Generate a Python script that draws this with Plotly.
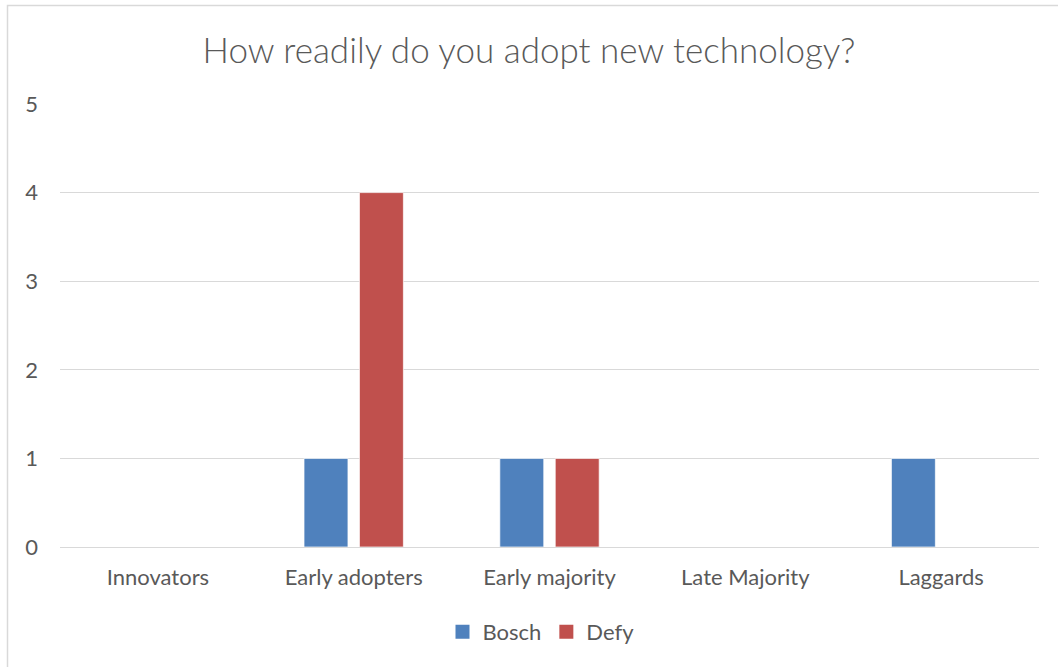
import plotly.graph_objects as go

categories = ["Innovators", "Early adopters", "Early majority", "Late Majority", "Laggards"]
bosch = [0, 1, 1, 0, 1]
defy = [0, 4, 1, 0, 0]
y_ticks = [0, 1, 2, 3, 4, 5]

FONT = "Lato, 'Open Sans', sans-serif"
TXT = "#595959"
GRID = "#D9D9D9"
BOSCH_C = "#4F81BD"
DEFY_C = "#C0504D"

W, H = 1058, 667
L, R, T, B = 60, 19, 104, 120
pw, ph = W - L - R, H - T - B

def px_to_paper_x(px):
    return (px - L) / pw

def px_to_paper_y(py):
    return (H - B - py) / ph

fig = go.Figure()
fig.add_trace(go.Bar(name="Bosch", x=categories, y=bosch, showlegend=False,
                     marker=dict(color=BOSCH_C, line=dict(color="#FFFFFF", width=0.7))))
fig.add_trace(go.Bar(name="Defy", x=categories, y=defy, showlegend=False,
                     marker=dict(color=DEFY_C, line=dict(color="#FFFFFF", width=0.7))))
# legend entries with square swatches
for name, col in [("Bosch", BOSCH_C), ("Defy", DEFY_C)]:
    fig.add_trace(go.Scatter(name=name, x=[None], y=[None], mode="markers",
                             marker=dict(symbol="square", size=14, color=col)))

fig.update_layout(
    width=W, height=H,
    margin=dict(l=L, r=R, t=T, b=B),
    paper_bgcolor="white", plot_bgcolor="white",
    barmode="group", bargap=0.434, bargroupgap=0.207,
    font=dict(family=FONT, color=TXT, size=22),
    title=dict(text="How readily do you adopt new technology?", x=0.5, xanchor="center",
               y=1 - 51 / H, yanchor="middle",
               font=dict(size=35, color=TXT, family=FONT, weight=300)),
    xaxis=dict(showgrid=False, showline=False, ticks="", ticklabelstandoff=15,
               tickfont=dict(size=22, color=TXT)),
    yaxis=dict(range=[0, 5], tickvals=y_ticks, showgrid=True, gridcolor=GRID, gridwidth=1.3,
               zeroline=True, zerolinecolor=GRID, zerolinewidth=1.3, showline=False,
               ticks="", ticklabelstandoff=21, tickfont=dict(size=22, color=TXT)),
    legend=dict(orientation="h", x=px_to_paper_x(541), xanchor="center",
                y=px_to_paper_y(632), yanchor="middle", font=dict(size=22, color=TXT),
                itemwidth=30, traceorder="normal", itemsizing="trace"),
    shapes=[dict(type="rect", xref="paper", yref="paper",
                 x0=px_to_paper_x(7.5), x1=px_to_paper_x(1070),
                 y0=px_to_paper_y(680), y1=px_to_paper_y(5.5),
                 line=dict(color=GRID, width=1.5), fillcolor="rgba(0,0,0,0)", layer="below")],
)

fig.write_html("out.html")
